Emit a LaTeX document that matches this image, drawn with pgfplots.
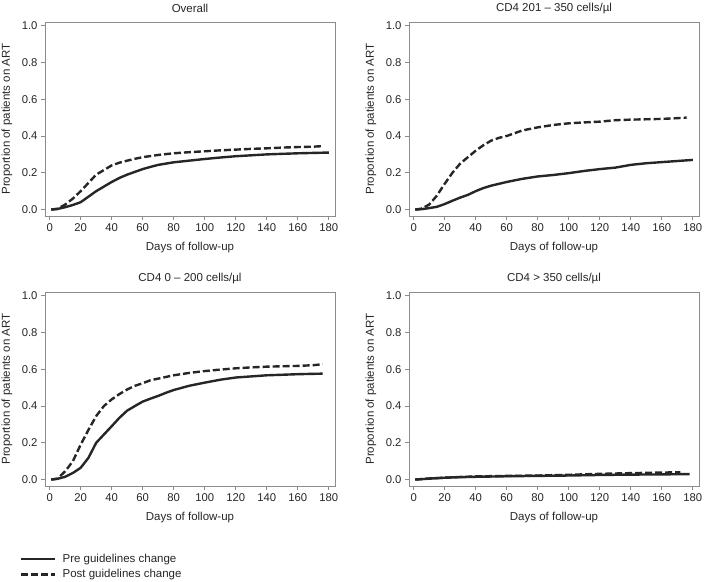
\documentclass[border=0pt]{standalone}
\usepackage{fontspec}
\setmainfont{Liberation Sans}
\usepackage{pgfplots}
\pgfplotsset{compat=1.18}
\newcommand\tf{\fontsize{11.3}{13}\selectfont}
\newcommand\lf{\fontsize{11.5}{13.5}\selectfont}
\definecolor{boxgray}{HTML}{8C8C8C}
\definecolor{ln}{HTML}{262626}
\pgfplotsset{
  panel/.style={
    scale only axis, width=290pt, height=194pt,
    xmin=-3, xmax=184, ymin=-0.035, ymax=1.02,
    xtick={0,20,...,180}, ytick={0,0.2,...,1.0},
    xtick pos=bottom, ytick pos=left, tick align=outside,
    major tick length=4pt,
    axis line style={boxgray, line width=0.8pt},
    tick style={boxgray, line width=0.8pt},
    /pgf/number format/assume math mode=true,
    yticklabel style={/pgf/number format/.cd, fixed, fixed zerofill, precision=1},
    ticklabel style={font=\tf, text=black!85},
    xlabel={Days of follow-up}, ylabel={Proportion of patients on ART},
    xlabel style={at={(axis description cs:0.5,-0.165)}, anchor=center, font=\lf, text=black!85},
    ylabel style={at={(axis description cs:-0.131,0.5)}, anchor=center, font=\lf, text=black!85},
    title style={at={(axis description cs:0.5,1.041)}, anchor=center, font=\lf, text=black!85},
  },
  pre/.style={ln, line width=2.4pt, line join=round},
  post/.style={ln, line width=2.4pt, dash pattern=on 7pt off 3pt},
}
\begin{document}
\begin{tikzpicture}
\useasboundingbox (0,0) rectangle (709pt,581pt);
% Overall
\begin{axis}[panel, at={(45pt,365pt)}, anchor=south west, title={Overall}]
\addplot[pre] coordinates {(1,0) (5,0.003) (10,0.013) (15,0.025) (20,0.04) (25,0.07) (30,0.10) (35,0.125) (40,0.15) (45,0.172) (50,0.19) (55,0.205) (60,0.22) (65,0.232) (70,0.243) (75,0.25) (80,0.257) (90,0.266) (100,0.275) (110,0.283) (120,0.29) (130,0.295) (140,0.30) (150,0.303) (160,0.306) (170,0.308) (180,0.31)};
\addplot[post] coordinates {(1,0) (5,0.004) (10,0.027) (15,0.06) (20,0.10) (25,0.145) (30,0.19) (35,0.215) (40,0.24) (45,0.255) (50,0.266) (55,0.276) (60,0.285) (70,0.297) (80,0.306) (90,0.312) (100,0.317) (110,0.322) (120,0.326) (130,0.33) (140,0.333) (150,0.337) (160,0.34) (170,0.342) (176,0.345)};
\end{axis}
% CD4 201-350
\begin{axis}[panel, at={(409pt,365pt)}, anchor=south west, title={CD4 201 – 350 cells/µl}]
\addplot[pre] coordinates {(1,0) (5,0.002) (10,0.008) (15,0.015) (20,0.03) (25,0.048) (30,0.065) (35,0.08) (40,0.10) (45,0.117) (50,0.13) (55,0.14) (60,0.15) (70,0.167) (80,0.18) (90,0.188) (100,0.198) (110,0.21) (120,0.22) (130,0.228) (140,0.243) (150,0.252) (160,0.258) (170,0.264) (180,0.27)};
\addplot[post] coordinates {(1,0) (5,0.005) (10,0.027) (15,0.076) (20,0.14) (25,0.2) (30,0.25) (35,0.285) (40,0.32) (45,0.35) (50,0.375) (55,0.39) (60,0.40) (65,0.415) (70,0.43) (80,0.447) (90,0.46) (100,0.469) (110,0.474) (120,0.478) (130,0.486) (140,0.489) (150,0.491) (160,0.493) (170,0.497) (176,0.50)};
\end{axis}
% CD4 0-200
\begin{axis}[panel, at={(45pt,95pt)}, anchor=south west, title={CD4 0 – 200 cells/µl},
  legend style={at={(axis description cs:0,0)}, anchor=north west, xshift=-28pt, yshift=-64pt,
    draw=none, fill=none, font=\lf, text=black!85, row sep=1.5pt, cells={anchor=west}},
  legend cell align=left,
  legend image code/.code={\draw[#1] (0pt,0pt) -- (34pt,0pt); \path (38pt,0pt);}]
\addplot[pre] coordinates {(1,0) (5,0.004) (10,0.015) (15,0.036) (20,0.064) (25,0.118) (30,0.2) (35,0.245) (40,0.29) (45,0.336) (50,0.375) (55,0.40) (60,0.424) (65,0.44) (70,0.455) (75,0.472) (80,0.487) (90,0.51) (100,0.527) (110,0.543) (120,0.555) (130,0.561) (140,0.567) (150,0.57) (160,0.573) (170,0.575) (176,0.576)};
\addlegendentry{Pre guidelines change}
\addplot[post] coordinates {(1,0) (5,0.005) (10,0.045) (15,0.1) (20,0.19) (25,0.27) (30,0.345) (35,0.4) (40,0.436) (45,0.465) (50,0.49) (55,0.51) (60,0.524) (65,0.54) (70,0.549) (80,0.567) (90,0.58) (100,0.59) (110,0.598) (120,0.605) (130,0.61) (140,0.614) (150,0.616) (160,0.618) (170,0.622) (176,0.627)};
\addlegendentry{Post guidelines change}
\end{axis}
% CD4 > 350
\begin{axis}[panel, at={(409pt,95pt)}, anchor=south west, title={CD4 > 350 cells/µl}]
\addplot[pre] coordinates {(1,0) (10,0.005) (20,0.01) (30,0.013) (40,0.015) (60,0.018) (80,0.02) (100,0.022) (120,0.025) (140,0.027) (160,0.028) (178,0.03)};
\addplot[post] coordinates {(1,0) (10,0.006) (20,0.01) (30,0.014) (40,0.017) (60,0.02) (80,0.022) (100,0.026) (120,0.031) (140,0.035) (160,0.038) (172,0.04)};
\end{axis}
\end{tikzpicture}
\end{document}
